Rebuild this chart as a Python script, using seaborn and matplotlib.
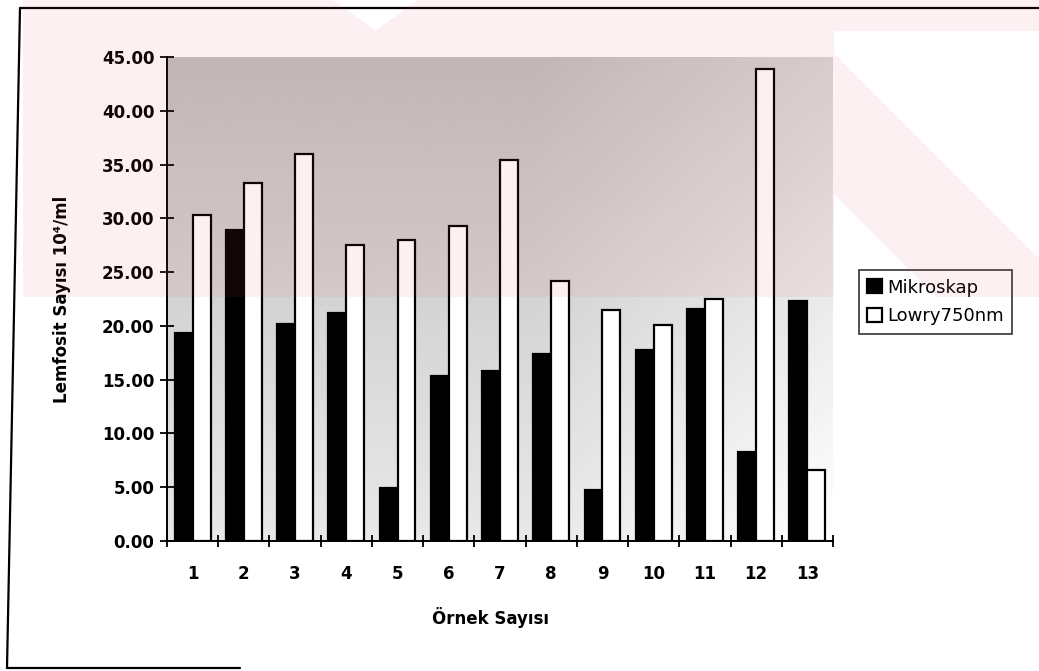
import numpy as np
import pandas as pd
import matplotlib
matplotlib.use("Agg")
import matplotlib.pyplot as plt
import seaborn as sns
from matplotlib.lines import Line2D

# ---- data ----
samples = [str(i) for i in range(1, 14)]
mikroskap = [19.3, 28.9, 20.2, 21.2, 4.9, 15.3, 15.8, 17.4, 4.7, 17.8, 21.6, 8.3, 22.3]
lowry = [30.3, 33.3, 36.0, 27.5, 28.0, 29.3, 35.4, 24.2, 21.5, 20.1, 22.5, 43.9, 6.6]
series_names = ["Mikroskap", "Lowry750nm"]
yticks = [0, 5, 10, 15, 20, 25, 30, 35, 40, 45]
xlabel = "Örnek Sayısı"
ylabel = "Lemfosit Sayısı 10⁴/ml"

df = pd.DataFrame({
    "Örnek": samples * 2,
    "Değer": mikroskap + lowry,
    "Seri": [series_names[0]] * len(samples) + [series_names[1]] * len(samples),
})

sns.set_theme(style="white")
plt.rcParams['font.family'] = ['DejaVu Sans']
plt.rcParams['text.color'] = 'black'

W, H = 1039, 671
fig = plt.figure(figsize=(W / 100, H / 100), dpi=100)
fig.patch.set_facecolor("white")

L, R, T, B = 167, 833, 57, 541
ax = fig.add_axes([L / W, 1 - B / H, (R - L) / W, (B - T) / H])

# halftone-like gray background of plot area
ny, nx = 200, 300
yy, xx = np.mgrid[0:1:complex(0, ny), 0:1:complex(0, nx)]
shade = 0.75 + 0.16 * yy + 0.09 * np.clip((xx - 0.55) / 0.45, 0, 1)
shade = np.clip(shade, 0, 1)
ax.imshow(shade, extent=[-0.5, 12.5, 0, 45], aspect="auto", cmap="gray",
          vmin=0, vmax=1, zorder=0, origin="upper", interpolation="bilinear")

sns.barplot(data=df, x="Örnek", y="Değer", hue="Seri", palette=["black", "white"],
            edgecolor="black", linewidth=1.6, width=0.7, ax=ax, zorder=3,
            saturation=1)

ax.set_xlim(-0.5, 12.5)
ax.set_ylim(0, 45)
ax.set_yticks(yticks)
ax.set_yticklabels([f"{v:.2f}" for v in yticks])
ax.set_xticks(np.arange(-0.5, 13, 1), minor=True)

for s in ["top", "right"]:
    ax.spines[s].set_visible(False)
for s in ["left", "bottom"]:
    ax.spines[s].set_color("black")
    ax.spines[s].set_linewidth(1.4)
    ax.spines[s].set_zorder(5)

ax.tick_params(axis="y", which="major", left=True, direction="inout", length=10,
               width=1.3, pad=4, labelsize=12, colors="black")
ax.tick_params(axis="x", which="major", bottom=True, length=0, pad=17,
               labelsize=12, colors="black")
ax.tick_params(axis="x", which="minor", bottom=True, direction="inout", length=9,
               width=1.3, colors="black")
for lab in ax.get_xticklabels() + ax.get_yticklabels():
    lab.set_fontweight("bold")

ax.set_xlabel(xlabel, fontsize=12, fontweight="bold", color="black")
ax.set_ylabel(ylabel, fontsize=12, fontweight="bold", color="black")
ax.xaxis.set_label_coords((490 - L) / (R - L), -(607 - B) / (B - T))
ax.yaxis.set_label_coords(-(L - 71) / (R - L), 0.5)
ax.grid(False)

handles, labels = ax.get_legend_handles_labels()
if ax.get_legend() is not None:
    ax.get_legend().remove()
leg = fig.legend(handles, labels, loc="center left",
                 bbox_to_anchor=(859 / W, 1 - 302 / H),
                 bbox_transform=fig.transFigure, frameon=True, fancybox=False,
                 edgecolor="black", fontsize=13, handlelength=0.8,
                 handleheight=0.8, handletextpad=0.3, borderpad=0.45,
                 labelspacing=0.6, borderaxespad=0, labelcolor="black")
leg.get_frame().set_linewidth(1.2)
leg.get_frame().set_facecolor("white")

# outer frame of the scanned figure
fig.add_artist(Line2D([20 / W, 7 / W], [1 - 8 / H, 1 - 668 / H],
                      transform=fig.transFigure, color="black", lw=1.6))
fig.add_artist(Line2D([20 / W, 1.0], [1 - 8 / H, 1 - 8 / H],
                      transform=fig.transFigure, color="black", lw=1.6))
fig.add_artist(Line2D([7 / W, 240 / W], [1 - 668 / H, 1 - 668 / H],
                      transform=fig.transFigure, color="black", lw=1.6))

# pale pink watermark in the upper part of the page
py, px = np.mgrid[0:H, 0:W]
u = px - py
white = np.zeros((H, W), dtype=bool)
white |= (py < 30) & (np.abs(px - 375) < 42 - 1.4 * py)          # small notch at top
white |= (px > 833) & (py > 30) & ~((u >= 640) & (u <= 780))      # right of plot
mask = (py < 297) & (px > 22) & ~white
rgba = np.zeros((H, W, 4))
rgba[..., 0] = 0.93
rgba[..., 1] = 0.30
rgba[..., 2] = 0.42
rgba[..., 3] = np.where(mask, 0.08, 0.0)
ov = fig.add_axes([0, 0, 1, 1], zorder=20)
ov.imshow(rgba, extent=[0, W, H, 0], aspect="auto", interpolation="nearest")
ov.set_xlim(0, W)
ov.set_ylim(H, 0)
ov.axis("off")
ov.patch.set_alpha(0)

fig.savefig("out.png", dpi=100)
